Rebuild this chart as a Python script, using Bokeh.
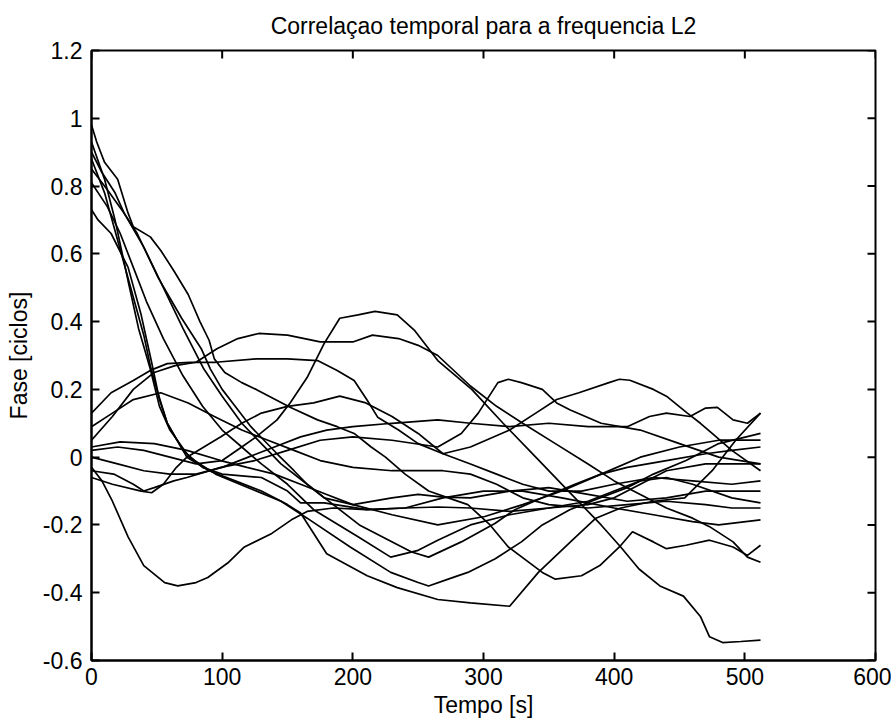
import math
from bokeh.plotting import figure
from bokeh.models import Range1d, FixedTicker
from bokeh.embed import file_html
from bokeh.resources import INLINE

title_text = "Correlaçao temporal para a frequencia L2"
x_label = "Tempo [s]"
y_label = "Fase [ciclos]"

x_ticks = [0, 100, 200, 300, 400, 500, 600]
x_tick_labels = ["0", "100", "200", "300", "400", "500", "600"]
y_ticks = [-0.6, -0.4, -0.2, 0, 0.2, 0.4, 0.6, 0.8, 1.0, 1.2]
y_tick_labels = ["-0.6", "-0.4", "-0.2", "0", "0.2", "0.4", "0.6", "0.8", "1", "1.2"]

# ---- curves: time [s] and phase [cycles] ----
t_dip = [0, 8, 16, 28, 40, 56, 66, 80, 89, 105, 117, 138, 153, 165, 185, 210, 240, 265, 290, 320, 350, 380, 400, 420, 440, 460, 490, 512]
v_dip = [-0.03, -0.07, -0.13, -0.235, -0.32, -0.37, -0.38, -0.37, -0.355, -0.31, -0.265, -0.225, -0.185, -0.16, -0.15, -0.155, -0.15, -0.147, -0.15, -0.16, -0.15, -0.13, -0.1, -0.07, -0.06, -0.08, -0.12, -0.135]

t_hump = [0, 20, 40, 60, 80, 100, 115, 126, 142, 152, 165, 178, 190, 204, 217, 234, 247, 265, 291, 315, 340, 365, 390, 405, 419, 435, 453, 466, 473, 483, 497, 512]
v_hump = [0.02, 0.03, 0.02, 0.0, -0.02, -0.01, 0.03, 0.06, 0.11, 0.16, 0.235, 0.335, 0.41, 0.42, 0.43, 0.42, 0.375, 0.285, 0.2, 0.1, 0.0, -0.1, -0.2, -0.265, -0.33, -0.38, -0.41, -0.47, -0.53, -0.547, -0.544, -0.54]

t_plat = [0, 16, 32, 48, 64, 80, 96, 112, 128, 150, 175, 200, 215, 235, 250, 265, 290, 310, 330, 355, 380, 400, 420, 440, 460, 473, 491, 502, 512]
v_plat = [0.05, 0.12, 0.2, 0.25, 0.27, 0.28, 0.32, 0.35, 0.365, 0.36, 0.34, 0.34, 0.36, 0.35, 0.33, 0.3, 0.21, 0.15, 0.1, 0.04, -0.02, -0.07, -0.11, -0.15, -0.18, -0.205, -0.25, -0.295, -0.31]

t_n1 = [0, 15, 32, 45, 58, 75, 95, 126, 150, 173, 188, 201, 211, 219, 235, 250, 269, 290, 310, 330, 350, 375, 400, 430, 460, 490, 512]
v_n1 = [0.13, 0.19, 0.226, 0.256, 0.276, 0.28, 0.28, 0.29, 0.29, 0.285, 0.256, 0.226, 0.168, 0.118, 0.08, 0.04, 0.01, -0.02, -0.05, -0.08, -0.1, -0.1, -0.08, -0.06, -0.07, -0.08, -0.07]

t_n2 = [0, 22, 48, 73, 99, 119, 140, 160, 180, 200, 230, 265, 301, 330, 360, 390, 420, 450, 480, 512]
v_n2 = [0.03, 0.045, 0.04, 0.02, -0.01, -0.03, -0.05, -0.08, -0.11, -0.14, -0.17, -0.2, -0.175, -0.14, -0.1, -0.05, 0.0, 0.03, 0.05, 0.05]

t_n3 = [0, 20, 40, 60, 80, 100, 120, 140, 160, 180, 200, 230, 265, 290, 320, 350, 380, 410, 427, 440, 458, 470, 479, 491, 502, 512]
v_n3 = [0.0, -0.02, -0.04, -0.05, -0.05, -0.03, 0.0, 0.03, 0.06, 0.08, 0.09, 0.1, 0.11, 0.1, 0.09, 0.1, 0.09, 0.09, 0.12, 0.13, 0.12, 0.145, 0.147, 0.11, 0.1, 0.13]

t_n4 = [0, 17, 32, 40, 48, 63, 73, 99, 125, 150, 175, 200, 230, 265, 283, 296, 311, 319, 329, 345, 356, 366, 390, 420, 450, 480, 512]
v_n4 = [-0.04, -0.05, -0.08, -0.1, -0.09, -0.07, -0.06, -0.03, -0.01, 0.02, 0.05, 0.06, 0.05, 0.03, 0.07, 0.13, 0.22, 0.23, 0.22, 0.2, 0.16, 0.14, 0.1, 0.08, 0.04, 0.0, -0.02]

t_n5 = [0, 16, 38, 46, 55, 65, 73, 99, 115, 130, 150, 170, 190, 210, 230, 250, 269, 290, 320, 340, 356, 373, 396, 404, 412, 430, 440, 456, 466, 475, 490, 512]
v_n5 = [-0.06, -0.08, -0.1, -0.105, -0.08, -0.03, 0.0, 0.06, 0.1, 0.13, 0.15, 0.16, 0.18, 0.16, 0.12, 0.07, 0.01, 0.03, 0.08, 0.13, 0.17, 0.19, 0.22, 0.23, 0.227, 0.2, 0.18, 0.13, 0.1, 0.07, 0.02, -0.04]

t_n6 = [0, 16, 32, 53, 74, 94, 115, 135, 155, 175, 200, 230, 269, 290, 310, 330, 350, 380, 410, 440, 470, 490, 512]
v_n6 = [0.09, 0.13, 0.17, 0.19, 0.16, 0.12, 0.08, 0.05, 0.02, -0.01, -0.03, -0.04, -0.04, -0.05, -0.08, -0.12, -0.14, -0.15, -0.14, -0.13, -0.14, -0.15, -0.15]

t_s1 = [0, 4, 10, 20, 28, 32, 45, 53, 63, 74, 83, 90, 94, 102, 115, 126, 152, 173, 188, 201, 214, 225, 240, 258, 273, 288, 305, 319, 345, 355, 375, 389, 404, 414, 430, 440, 455, 473, 491, 502, 512]
v_s1 = [0.98, 0.93, 0.87, 0.82, 0.72, 0.68, 0.65, 0.61, 0.55, 0.48, 0.4, 0.345, 0.29, 0.25, 0.22, 0.2, 0.147, 0.11, 0.09, 0.07, 0.03, 0.0, -0.05, -0.1, -0.12, -0.14, -0.2, -0.265, -0.34, -0.36, -0.35, -0.32, -0.265, -0.22, -0.25, -0.27, -0.26, -0.245, -0.265, -0.29, -0.26]

t_s2 = [0, 8, 18, 25, 35, 51, 69, 84, 91, 100, 112, 122, 132, 142, 155, 165, 178, 200, 230, 250, 269, 290, 320, 350, 380, 410, 440, 470, 490, 512]
v_s2 = [0.9, 0.84, 0.78, 0.72, 0.66, 0.53, 0.41, 0.32, 0.26, 0.2, 0.14, 0.09, 0.05, 0.01, -0.04, -0.08, -0.12, -0.14, -0.12, -0.11, -0.118, -0.12, -0.1, -0.09, -0.11, -0.13, -0.12, -0.1, -0.1, -0.1]

t_s3 = [0, 12, 25, 40, 55, 70, 86, 100, 115, 130, 145, 165, 185, 205, 225, 245, 258, 283, 309, 324, 345, 370, 390, 410, 440, 470, 490, 512]
v_s3 = [0.85, 0.79, 0.72, 0.62, 0.5, 0.38, 0.26, 0.18, 0.1, 0.04, -0.02, -0.08, -0.14, -0.2, -0.24, -0.28, -0.295, -0.25, -0.195, -0.155, -0.12, -0.08, -0.05, -0.03, -0.01, 0.01, 0.02, 0.03]

t_f1 = [0, 10, 20, 30, 40, 45, 50, 58, 73, 90, 110, 130, 150, 160, 180, 211, 234, 265, 290, 320, 342, 368, 386, 405, 430, 454, 475, 493, 512]
v_f1 = [0.88, 0.78, 0.64, 0.5, 0.36, 0.27, 0.2, 0.1, 0.0, -0.04, -0.07, -0.1, -0.14, -0.165, -0.285, -0.35, -0.385, -0.42, -0.43, -0.44, -0.34, -0.245, -0.18, -0.15, -0.13, -0.12, -0.04, 0.05, 0.13]

t_f2 = [0, 10, 18, 28, 36, 45, 52, 60, 75, 95, 120, 145, 165, 198, 229, 250, 258, 273, 288, 309, 329, 345, 366, 386, 410, 430, 455, 480, 512]
v_f2 = [0.93, 0.82, 0.7, 0.52, 0.38, 0.26, 0.15, 0.08, 0.0, -0.05, -0.09, -0.13, -0.18, -0.265, -0.34, -0.37, -0.38, -0.36, -0.34, -0.3, -0.25, -0.2, -0.155, -0.125, -0.09, -0.05, -0.01, 0.04, 0.07]

t_f3 = [0, 12, 22, 32, 42, 55, 70, 85, 100, 115, 130, 150, 170, 204, 229, 250, 265, 290, 320, 350, 380, 400, 420, 440, 470, 512]
v_f3 = [0.81, 0.74, 0.66, 0.56, 0.46, 0.35, 0.24, 0.15, 0.08, 0.03, -0.02, -0.08, -0.155, -0.235, -0.295, -0.275, -0.245, -0.2, -0.17, -0.15, -0.14, -0.12, -0.08, -0.04, -0.02, -0.02]

t_m1 = [0, 5, 15, 28, 38, 46, 52, 58, 70, 85, 100, 130, 150, 160, 178, 211, 240, 269, 300, 330, 360, 400, 430, 460, 480, 512]
v_m1 = [0.73, 0.7, 0.66, 0.56, 0.42, 0.28, 0.17, 0.1, 0.02, -0.03, -0.05, -0.06, -0.1, -0.135, -0.135, -0.155, -0.15, -0.12, -0.1, -0.1, -0.12, -0.15, -0.17, -0.19, -0.2, -0.185]

series = [
    (t_dip, v_dip), (t_hump, v_hump), (t_plat, v_plat), (t_n1, v_n1),
    (t_n2, v_n2), (t_n3, v_n3), (t_n4, v_n4), (t_n5, v_n5), (t_n6, v_n6),
    (t_s1, v_s1), (t_s2, v_s2), (t_s3, v_s3), (t_f1, v_f1), (t_f2, v_f2),
    (t_f3, v_f3), (t_m1, v_m1),
]

FONT = "Liberation Sans"
FS = "23px"

x0, x1 = x_ticks[0], x_ticks[-1]
y0, y1 = y_ticks[0], y_ticks[-1]

p = figure(width=891, height=720, output_backend="svg", toolbar_location=None,
           x_range=Range1d(x0, x1), y_range=Range1d(y0, y1),
           min_border_left=91, min_border_right=16, min_border_top=50, min_border_bottom=58)

p.title.text = title_text
p.title.align = "center"
p.title.vertical_align = "top"
p.title.text_font = FONT
p.title.text_font_size = FS
p.title.text_font_style = "normal"
p.title.text_color = "black"
p.title.standoff = 20

for t, v in series:
    p.line(t, v, line_color="black", line_width=1.7)

# inward ticks on the top and right edges (outer half is clipped by the frame)
p.scatter(x=[x1] * len(y_ticks), y=y_ticks, marker="dash", size=16,
          line_color="black", line_width=2)
p.scatter(x=x_ticks, y=[y1] * len(x_ticks), marker="dash", size=16,
          angle=math.pi / 2, line_color="black", line_width=2)

p.xgrid.visible = False
p.ygrid.visible = False
p.outline_line_color = "black"
p.outline_line_width = 2
p.background_fill_color = "white"
p.border_fill_color = "white"

xo = {v: s for v, s in zip(x_ticks, x_tick_labels)}
yo = {v: s for v, s in zip(y_ticks, y_tick_labels)}

def style(ax, ticks, overrides):
    ax.ticker = FixedTicker(ticks=ticks)
    ax.major_tick_in = 8
    ax.major_tick_out = 0
    ax.minor_tick_in = 0
    ax.minor_tick_out = 0
    ax.minor_tick_line_color = None
    ax.axis_line_color = "black"
    ax.axis_line_width = 2
    ax.major_tick_line_color = "black"
    ax.major_tick_line_width = 2
    ax.major_label_text_font = FONT
    ax.major_label_text_font_size = FS
    ax.major_label_text_font_style = "normal"
    ax.major_label_text_color = "black"
    ax.major_label_overrides = overrides
    ax.axis_label_text_font = FONT
    ax.axis_label_text_font_size = FS
    ax.axis_label_text_font_style = "normal"
    ax.axis_label_text_color = "black"

xa = p.xaxis[0]
style(xa, x_ticks, xo)
xa.major_label_standoff = 7
xa.axis_label = x_label
xa.axis_label_standoff = 4

ya = p.yaxis[0]
style(ya, y_ticks, yo)
ya.major_label_standoff = 9
ya.axis_label = y_label
ya.axis_label_standoff = 8

open("out.html", "w").write(file_html(p, INLINE))
